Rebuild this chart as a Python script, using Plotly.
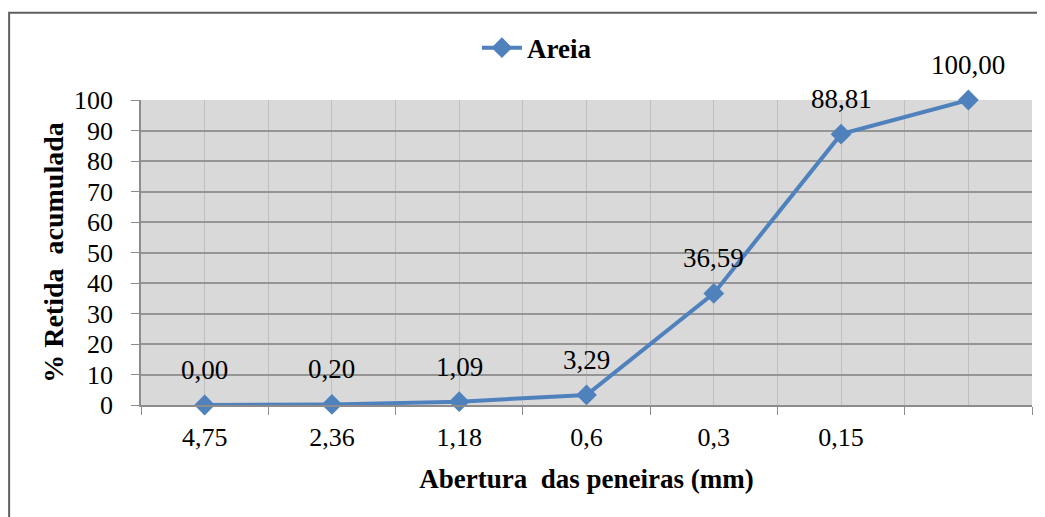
import plotly.graph_objects as go

categories = ["4,75", "2,36", "1,18", "0,6", "0,3", "0,15", ""]
retida_acumulada = [0.00, 0.20, 1.09, 3.29, 36.59, 88.81, 100.00]
y_ticks = [0, 10, 20, 30, 40, 50, 60, 70, 80, 90, 100]
series_name = "Areia"

FONT = "Liberation Serif, Times New Roman, serif"
BLUE = "#4f81bd"

xpos = list(range(len(categories)))
labels = [f"{v:.2f}".replace(".", ",") for v in retida_acumulada]

fig = go.Figure()
fig.add_trace(go.Scatter(
    x=xpos, y=retida_acumulada, mode="lines+markers", name=series_name,
    line=dict(color=BLUE, width=4),
    marker=dict(symbol="diamond", size=16, color=BLUE),
    cliponaxis=False,
))

for xp, v, t in zip(xpos, retida_acumulada, labels):
    fig.add_annotation(x=xp, y=v, text=t, showarrow=False, yshift=35,
                       font=dict(family=FONT, size=27, color="black"))

fig.add_shape(type="rect", xref="paper", yref="paper",
              x0=-0.148, x1=1.2, y0=-0.6, y1=1.286,
              line=dict(color="#5f5f5f", width=2), fillcolor="rgba(0,0,0,0)", layer="below")

fig.update_layout(
    width=1037, height=509,
    margin=dict(l=133, r=13, t=92, b=112),
    paper_bgcolor="white", plot_bgcolor="#d9d9d9",
    font=dict(family=FONT, size=26, color="black"),
    showlegend=True,
    legend=dict(orientation="h", x=0.377, xanchor="left", y=1.17, yanchor="middle",
                font=dict(family=FONT, size=27, color="black", weight="bold"),
                bgcolor="rgba(0,0,0,0)", itemwidth=40),
    xaxis=dict(
        range=[-0.5, len(categories) - 0.5],
        tickmode="array", tickvals=xpos, ticktext=categories,
        showgrid=True, gridcolor="#bfbfbf", gridwidth=1,
        ticks="", ticklabelstandoff=8,
        minor=dict(tickmode="array", tickvals=[i - 0.5 for i in range(len(categories) + 1)],
                   showgrid=True, gridcolor="#bfbfbf", gridwidth=1,
                   ticks="outside", ticklen=8, tickcolor="#8c8c8c"),
        showline=True, linecolor="#8c8c8c", linewidth=1.5,
        zeroline=False, fixedrange=True,
        tickfont=dict(family=FONT, size=26, color="black"),
        title=dict(text="<b>Abertura\u00a0 das peneiras (mm)</b>", standoff=18,
                   font=dict(family=FONT, size=27, color="black")),
    ),
    yaxis=dict(
        range=[0, 100], tickmode="array", tickvals=y_ticks,
        showgrid=True, gridcolor="#959595", gridwidth=1.5,
        ticks="outside", ticklen=8, tickcolor="#8c8c8c", ticklabelstandoff=13,
        showline=True, linecolor="#8c8c8c", linewidth=1.5,
        zeroline=False, fixedrange=True,
        tickfont=dict(family=FONT, size=26, color="black"),
        title=dict(text="<b>% Retida\u00a0 acumulada</b>", standoff=2,
                   font=dict(family=FONT, size=28, color="black")),
    ),
)

fig.write_html("out.html")
